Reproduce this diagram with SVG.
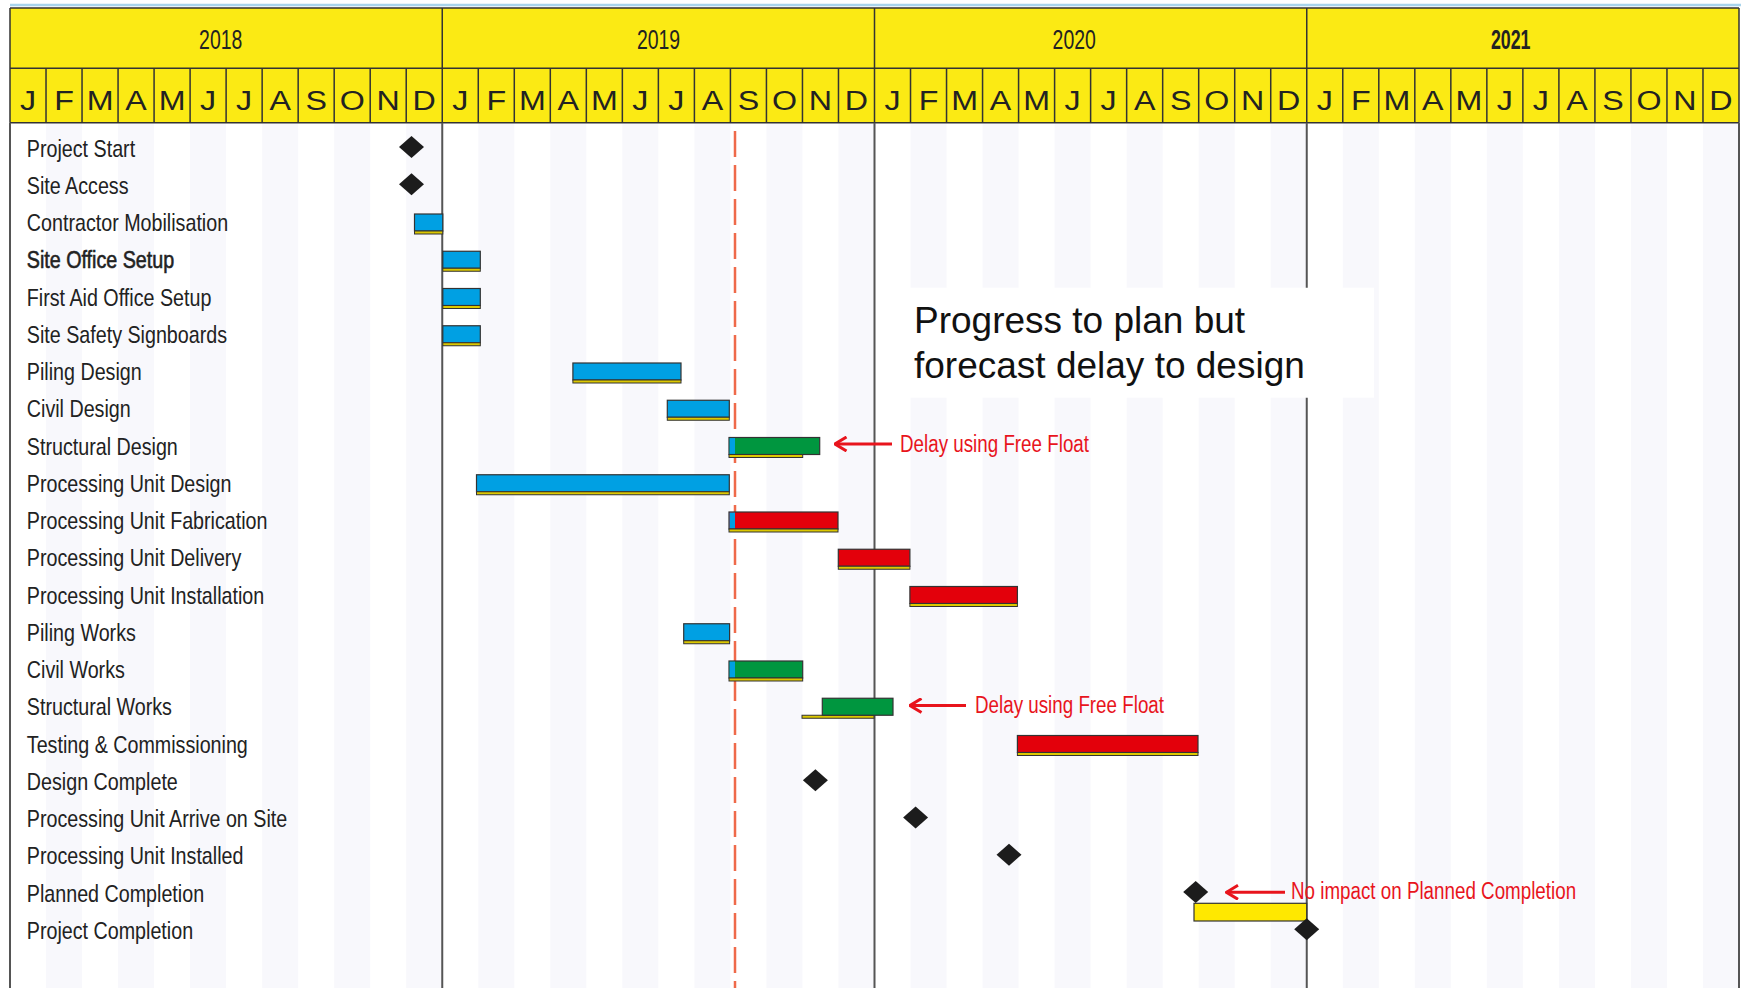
<svg xmlns="http://www.w3.org/2000/svg" width="1741" height="988" viewBox="0 0 1741 988">
<style>
text { font-family: "Liberation Sans", Arial, sans-serif; }
.lbl { font-size: 24px; fill: #222; }
.mon { font-size: 28px; fill: #222; text-anchor: middle; }
.yr { font-size: 27px; fill: #222; text-anchor: middle; }
.ann { font-size: 24.5px; fill: #E8141C; }
.note { font-size: 37px; fill: #111; }
.bar { stroke: #333; stroke-width: 1.2; }
.blue { fill: #00A0E3; }
.green { fill: #00963F; }
.red { fill: #E3000B; }
.base { fill: #DCC800; stroke: #333; stroke-width: 1; }
.ylw { fill: #FFE800; stroke: #333; stroke-width: 1.2; }
.ms { fill: #1C1C1C; }
.stripe { fill: #F8F8FC; }
.hline { stroke: #333; stroke-width: 1.5; fill: none; }
.yline { stroke: #555; stroke-width: 2; fill: none; }
.arrow { stroke: #E8141C; stroke-width: 3; fill: none; }
</style>
<defs>
<marker id="head" viewBox="0 0 14 16" refX="12.5" refY="8" markerWidth="14" markerHeight="16" markerUnits="userSpaceOnUse" orient="auto">
<path d="M1 1 L12.5 8 L1 15" fill="none" stroke="#E8141C" stroke-width="3"/>
</marker>
</defs>
<rect x="0" y="0" width="1741" height="988" fill="#FFFFFF"/>
<g id="stripes">
<rect class="stripe" x="46.02" y="122.7" width="36.02" height="866"/>
<rect class="stripe" x="118.06" y="122.7" width="36.02" height="866"/>
<rect class="stripe" x="190.10" y="122.7" width="36.02" height="866"/>
<rect class="stripe" x="262.15" y="122.7" width="36.02" height="866"/>
<rect class="stripe" x="334.19" y="122.7" width="36.02" height="866"/>
<rect class="stripe" x="406.23" y="122.7" width="36.02" height="866"/>
<rect class="stripe" x="478.27" y="122.7" width="36.02" height="866"/>
<rect class="stripe" x="550.31" y="122.7" width="36.02" height="866"/>
<rect class="stripe" x="622.35" y="122.7" width="36.02" height="866"/>
<rect class="stripe" x="694.40" y="122.7" width="36.02" height="866"/>
<rect class="stripe" x="766.44" y="122.7" width="36.02" height="866"/>
<rect class="stripe" x="838.48" y="122.7" width="36.02" height="866"/>
<rect class="stripe" x="910.52" y="122.7" width="36.02" height="866"/>
<rect class="stripe" x="982.56" y="122.7" width="36.02" height="866"/>
<rect class="stripe" x="1054.60" y="122.7" width="36.02" height="866"/>
<rect class="stripe" x="1126.65" y="122.7" width="36.02" height="866"/>
<rect class="stripe" x="1198.69" y="122.7" width="36.02" height="866"/>
<rect class="stripe" x="1270.73" y="122.7" width="36.02" height="866"/>
<rect class="stripe" x="1342.77" y="122.7" width="36.02" height="866"/>
<rect class="stripe" x="1414.81" y="122.7" width="36.02" height="866"/>
<rect class="stripe" x="1486.85" y="122.7" width="36.02" height="866"/>
<rect class="stripe" x="1558.90" y="122.7" width="36.02" height="866"/>
<rect class="stripe" x="1630.94" y="122.7" width="36.02" height="866"/>
<rect class="stripe" x="1702.98" y="122.7" width="36.02" height="866"/>
</g>
<g id="note-box">
<rect x="880" y="287.7" width="494" height="110" fill="#FFFFFF"/>
</g>
<g id="grid">
<line x1="10" y1="5" x2="1741" y2="5" stroke="#A8D4EC" stroke-width="2.5"/>
<rect x="10" y="8" width="1729" height="114.7" fill="#FBEA14"/>
<path class="hline" d="M10 8H1739 M10 68.3H1739 M10 122.7H1739"/>
<path class="hline" d="M10 8V122.7 M442.25 8V122.7 M874.5 8V122.7 M1306.75 8V122.7 M1739 8V122.7"/>
<path class="hline" d="M46.02 68.3V122.7 M82.04 68.3V122.7 M118.06 68.3V122.7 M154.08 68.3V122.7 M190.10 68.3V122.7 M226.12 68.3V122.7 M262.15 68.3V122.7 M298.17 68.3V122.7 M334.19 68.3V122.7 M370.21 68.3V122.7 M406.23 68.3V122.7 M478.27 68.3V122.7 M514.29 68.3V122.7 M550.31 68.3V122.7 M586.33 68.3V122.7 M622.35 68.3V122.7 M658.37 68.3V122.7 M694.40 68.3V122.7 M730.42 68.3V122.7 M766.44 68.3V122.7 M802.46 68.3V122.7 M838.48 68.3V122.7 M910.52 68.3V122.7 M946.54 68.3V122.7 M982.56 68.3V122.7 M1018.58 68.3V122.7 M1054.60 68.3V122.7 M1090.62 68.3V122.7 M1126.65 68.3V122.7 M1162.67 68.3V122.7 M1198.69 68.3V122.7 M1234.71 68.3V122.7 M1270.73 68.3V122.7 M1342.77 68.3V122.7 M1378.79 68.3V122.7 M1414.81 68.3V122.7 M1450.83 68.3V122.7 M1486.85 68.3V122.7 M1522.87 68.3V122.7 M1558.90 68.3V122.7 M1594.92 68.3V122.7 M1630.94 68.3V122.7 M1666.96 68.3V122.7 M1702.98 68.3V122.7"/>
<path class="yline" d="M10 122.7V988 M442.25 122.7V988 M874.5 122.7V988 M1306.75 122.7V287.7 M1306.75 397.7V988 M1739 122.7V988"/>
<text class="yr" transform="translate(220.7 49.3) scale(0.72 1)">2018</text>
<text class="yr" transform="translate(658.5 49.3) scale(0.72 1)">2019</text>
<text class="yr" transform="translate(1074.2 49.3) scale(0.72 1)">2020</text>
<text class="yr" transform="translate(1510.7 49.3) scale(0.66 1)" font-weight="bold">2021</text>
<g id="months">
<text class="mon" transform="translate(28.01 110) scale(1.15 1)">J</text>
<text class="mon" transform="translate(64.03 110) scale(1.15 1)">F</text>
<text class="mon" transform="translate(100.05 110) scale(1.15 1)">M</text>
<text class="mon" transform="translate(136.07 110) scale(1.15 1)">A</text>
<text class="mon" transform="translate(172.09 110) scale(1.15 1)">M</text>
<text class="mon" transform="translate(208.11 110) scale(1.15 1)">J</text>
<text class="mon" transform="translate(244.13 110) scale(1.15 1)">J</text>
<text class="mon" transform="translate(280.16 110) scale(1.15 1)">A</text>
<text class="mon" transform="translate(316.18 110) scale(1.15 1)">S</text>
<text class="mon" transform="translate(352.20 110) scale(1.15 1)">O</text>
<text class="mon" transform="translate(388.22 110) scale(1.15 1)">N</text>
<text class="mon" transform="translate(424.24 110) scale(1.15 1)">D</text>
<text class="mon" transform="translate(460.26 110) scale(1.15 1)">J</text>
<text class="mon" transform="translate(496.28 110) scale(1.15 1)">F</text>
<text class="mon" transform="translate(532.30 110) scale(1.15 1)">M</text>
<text class="mon" transform="translate(568.32 110) scale(1.15 1)">A</text>
<text class="mon" transform="translate(604.34 110) scale(1.15 1)">M</text>
<text class="mon" transform="translate(640.36 110) scale(1.15 1)">J</text>
<text class="mon" transform="translate(676.38 110) scale(1.15 1)">J</text>
<text class="mon" transform="translate(712.41 110) scale(1.15 1)">A</text>
<text class="mon" transform="translate(748.43 110) scale(1.15 1)">S</text>
<text class="mon" transform="translate(784.45 110) scale(1.15 1)">O</text>
<text class="mon" transform="translate(820.47 110) scale(1.15 1)">N</text>
<text class="mon" transform="translate(856.49 110) scale(1.15 1)">D</text>
<text class="mon" transform="translate(892.51 110) scale(1.15 1)">J</text>
<text class="mon" transform="translate(928.53 110) scale(1.15 1)">F</text>
<text class="mon" transform="translate(964.55 110) scale(1.15 1)">M</text>
<text class="mon" transform="translate(1000.57 110) scale(1.15 1)">A</text>
<text class="mon" transform="translate(1036.59 110) scale(1.15 1)">M</text>
<text class="mon" transform="translate(1072.61 110) scale(1.15 1)">J</text>
<text class="mon" transform="translate(1108.63 110) scale(1.15 1)">J</text>
<text class="mon" transform="translate(1144.66 110) scale(1.15 1)">A</text>
<text class="mon" transform="translate(1180.68 110) scale(1.15 1)">S</text>
<text class="mon" transform="translate(1216.70 110) scale(1.15 1)">O</text>
<text class="mon" transform="translate(1252.72 110) scale(1.15 1)">N</text>
<text class="mon" transform="translate(1288.74 110) scale(1.15 1)">D</text>
<text class="mon" transform="translate(1324.76 110) scale(1.15 1)">J</text>
<text class="mon" transform="translate(1360.78 110) scale(1.15 1)">F</text>
<text class="mon" transform="translate(1396.80 110) scale(1.15 1)">M</text>
<text class="mon" transform="translate(1432.82 110) scale(1.15 1)">A</text>
<text class="mon" transform="translate(1468.84 110) scale(1.15 1)">M</text>
<text class="mon" transform="translate(1504.86 110) scale(1.15 1)">J</text>
<text class="mon" transform="translate(1540.88 110) scale(1.15 1)">J</text>
<text class="mon" transform="translate(1576.91 110) scale(1.15 1)">A</text>
<text class="mon" transform="translate(1612.93 110) scale(1.15 1)">S</text>
<text class="mon" transform="translate(1648.95 110) scale(1.15 1)">O</text>
<text class="mon" transform="translate(1684.97 110) scale(1.15 1)">N</text>
<text class="mon" transform="translate(1720.99 110) scale(1.15 1)">D</text>
</g>
</g>
<g id="status-date">
<line x1="735" y1="131" x2="735" y2="988" stroke="#EF6A4A" stroke-width="2.5" stroke-dasharray="26 8"/>
</g>
<g id="task-project-start">
<text class="lbl" transform="translate(26.8 156.5) scale(0.821 1)">Project Start</text>
<path class="ms" d="M411.5 136L424 147L411.5 158L399 147Z"/>
</g>
<g id="task-site-access">
<text class="lbl" transform="translate(26.8 193.75) scale(0.821 1)">Site Access</text>
<path class="ms" d="M411.5 173.25L424 184.25L411.5 195.25L399 184.25Z"/>
</g>
<g id="task-contractor-mobilisation">
<text class="lbl" transform="translate(26.8 231) scale(0.821 1)">Contractor Mobilisation</text>
<rect class="bar blue" x="414.5" y="214" width="28.3" height="17"/>
<rect class="base" x="414.5" y="231" width="28.3" height="3"/>
</g>
<g id="task-site-office-setup">
<text class="lbl" transform="translate(26.8 268.25) scale(0.821 1)" stroke="#222" stroke-width="0.6">Site Office Setup</text>
<rect class="bar blue" x="442.8" y="251.25" width="37.5" height="17"/>
<rect class="base" x="442.8" y="268.25" width="37.5" height="3"/>
</g>
<g id="task-first-aid-office-setup">
<text class="lbl" transform="translate(26.8 305.5) scale(0.821 1)">First Aid Office Setup</text>
<rect class="bar blue" x="442.8" y="288.5" width="37.5" height="17"/>
<rect class="base" x="442.8" y="305.5" width="37.5" height="3"/>
</g>
<g id="task-site-safety-signboards">
<text class="lbl" transform="translate(26.8 342.75) scale(0.821 1)">Site Safety Signboards</text>
<rect class="bar blue" x="442.8" y="325.75" width="37.5" height="17"/>
<rect class="base" x="442.8" y="342.75" width="37.5" height="3"/>
</g>
<g id="task-piling-design">
<text class="lbl" transform="translate(26.8 380) scale(0.821 1)">Piling Design</text>
<rect class="bar blue" x="572.9" y="363" width="108.1" height="17"/>
<rect class="base" x="572.9" y="380" width="108.1" height="3"/>
</g>
<g id="task-civil-design">
<text class="lbl" transform="translate(26.8 417.25) scale(0.821 1)">Civil Design</text>
<rect class="bar blue" x="667.3" y="400.25" width="62" height="17"/>
<rect class="base" x="667.3" y="417.25" width="62" height="3"/>
</g>
<g id="task-structural-design">
<text class="lbl" transform="translate(26.8 454.5) scale(0.821 1)">Structural Design</text>
<rect class="bar green" x="729" y="437.5" width="90.7" height="17"/>
<rect class="blue" x="729.6" y="438.1" width="5.4" height="15.8"/>
<rect class="base" x="729" y="454.5" width="73.7" height="3"/>
</g>
<g id="task-processing-unit-design">
<text class="lbl" transform="translate(26.8 491.75) scale(0.821 1)">Processing Unit Design</text>
<rect class="bar blue" x="476.5" y="474.75" width="252.8" height="17"/>
<rect class="base" x="476.5" y="491.75" width="252.8" height="3"/>
</g>
<g id="task-processing-unit-fabrication">
<text class="lbl" transform="translate(26.8 529) scale(0.821 1)">Processing Unit Fabrication</text>
<rect class="bar red" x="729" y="512" width="109" height="17"/>
<rect class="blue" x="729.6" y="512.6" width="5.4" height="15.8"/>
<rect class="base" x="729" y="529" width="109" height="3"/>
</g>
<g id="task-processing-unit-delivery">
<text class="lbl" transform="translate(26.8 566.25) scale(0.821 1)">Processing Unit Delivery</text>
<rect class="bar red" x="838.3" y="549.25" width="71.6" height="17"/>
<rect class="base" x="838.3" y="566.25" width="71.6" height="3"/>
</g>
<g id="task-processing-unit-installation">
<text class="lbl" transform="translate(26.8 603.5) scale(0.821 1)">Processing Unit Installation</text>
<rect class="bar red" x="909.9" y="586.5" width="107.5" height="17"/>
<rect class="base" x="909.9" y="603.5" width="107.5" height="3"/>
</g>
<g id="task-piling-works">
<text class="lbl" transform="translate(26.8 640.75) scale(0.821 1)">Piling Works</text>
<rect class="bar blue" x="683.7" y="623.75" width="45.9" height="17"/>
<rect class="base" x="683.7" y="640.75" width="45.9" height="3"/>
</g>
<g id="task-civil-works">
<text class="lbl" transform="translate(26.8 678) scale(0.821 1)">Civil Works</text>
<rect class="bar green" x="729" y="661" width="73.7" height="17"/>
<rect class="blue" x="729.6" y="661.6" width="5.4" height="15.8"/>
<rect class="base" x="729" y="678" width="73.7" height="3"/>
</g>
<g id="task-structural-works">
<text class="lbl" transform="translate(26.8 715.25) scale(0.821 1)">Structural Works</text>
<rect class="base" x="802" y="715.25" width="72" height="3"/>
<rect class="bar green" x="822.3" y="698.25" width="70.7" height="17"/>
</g>
<g id="task-testing-commissioning">
<text class="lbl" transform="translate(26.8 752.5) scale(0.821 1)">Testing &amp; Commissioning</text>
<rect class="bar red" x="1017.4" y="735.5" width="180.6" height="17"/>
<rect class="base" x="1017.4" y="752.5" width="180.6" height="3"/>
</g>
<g id="task-design-complete">
<text class="lbl" transform="translate(26.8 789.75) scale(0.821 1)">Design Complete</text>
<path class="ms" d="M815.4 769.25L827.9 780.25L815.4 791.25L802.9 780.25Z"/>
</g>
<g id="task-processing-unit-arrive">
<text class="lbl" transform="translate(26.8 827) scale(0.821 1)">Processing Unit Arrive on Site</text>
<path class="ms" d="M915.6 806.5L928.1 817.5L915.6 828.5L903.1 817.5Z"/>
</g>
<g id="task-processing-unit-installed">
<text class="lbl" transform="translate(26.8 864.25) scale(0.821 1)">Processing Unit Installed</text>
<path class="ms" d="M1009 843.75L1021.5 854.75L1009 865.75L996.5 854.75Z"/>
</g>
<g id="task-planned-completion">
<text class="lbl" transform="translate(26.8 901.5) scale(0.821 1)">Planned Completion</text>
<path class="ms" d="M1195.7 881L1208.2 892L1195.7 903L1183.2 892Z"/>
</g>
<g id="task-project-completion">
<text class="lbl" transform="translate(26.8 938.75) scale(0.821 1)">Project Completion</text>
<rect class="ylw" x="1194" y="903.3" width="112.7" height="17.7"/>
<path class="ms" d="M1306.7 918.25L1319.2 929.25L1306.7 940.25L1294.2 929.25Z"/>
</g>
<g id="note">
<text class="note" x="914" y="332.8">Progress to plan but</text>
<text class="note" x="914" y="378.3">forecast delay to design</text>
</g>
<g id="connectors">
<line class="arrow" x1="892" y1="444" x2="835" y2="444" marker-end="url(#head)"/>
<line class="arrow" x1="966" y1="705.5" x2="910" y2="705.5" marker-end="url(#head)"/>
<line class="arrow" x1="1285" y1="892.3" x2="1226.5" y2="892.3" marker-end="url(#head)"/>
</g>
<g id="annotations">
<text class="ann" transform="translate(900 451.7) scale(0.767 1)">Delay using Free Float</text>
<text class="ann" transform="translate(975 713.3) scale(0.767 1)">Delay using Free Float</text>
<text class="ann" transform="translate(1291 899.3) scale(0.767 1)">No impact on Planned Completion</text>
</g>
</svg>
